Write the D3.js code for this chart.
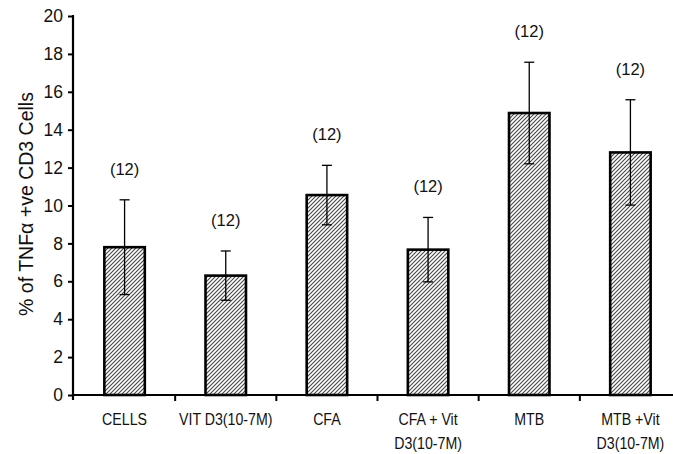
<!DOCTYPE html>
<html>
<head>
<meta charset="utf-8">
<script src="https://cdn.jsdelivr.net/npm/d3@7"></script>
<style>
  html, body { margin: 0; padding: 0; background: #fff; }
  svg { display: block; font-family: "Liberation Sans", Arial, sans-serif; }
</style>
</head>
<body>
<svg id="chart" width="673" height="454"></svg>
<script>
// Treatment groups (label lines) and measured percentages
const categories = ["CELLS", "VIT D3(10-7M)", "CFA", "CFA + Vit D3(10-7M)", "MTB", "MTB +Vit D3(10-7M)"];
const categoryLines = [["CELLS"], ["VIT D3(10-7M)"], ["CFA"], ["CFA + Vit", "D3(10-7M)"], ["MTB"], ["MTB +Vit", "D3(10-7M)"]];
const meanValues = [7.8, 6.3, 10.55, 7.67, 14.88, 12.8];
const errorValues = [2.5, 1.3, 1.57, 1.7, 2.68, 2.78];
const sampleSizes = [12, 12, 12, 12, 12, 12];
const yTicks = [0, 2, 4, 6, 8, 10, 12, 14, 16, 18, 20];

const svg = d3.select("#chart");

// diagonal hatch fill for the bars
const defs = svg.append("defs");
const pat = defs.append("pattern")
  .attr("id", "hatch")
  .attr("patternUnits", "userSpaceOnUse")
  .attr("width", 4).attr("height", 4);
pat.append("rect").attr("width", 4).attr("height", 4).attr("fill", "#fff");
pat.append("path")
  .attr("d", "M-1,1 L1,-1 M0,4 L4,0 M3,5 L5,3")
  .attr("stroke", "#454545").attr("stroke-width", 1.1);

const x = d3.scaleBand().domain(categories).range([74, 681]).padding(0);
const y = d3.scaleLinear().domain([0, 20]).range([395, 16]);
const axisX = 73;

const barW = x.bandwidth() * 0.40;

// bars
svg.append("g").selectAll("rect")
  .data(categories)
  .join("rect")
  .attr("x", (d) => x(d) + (x.bandwidth() - barW) / 2)
  .attr("y", (d, i) => y(meanValues[i]))
  .attr("width", barW)
  .attr("height", (d, i) => y(0) - y(meanValues[i]))
  .attr("fill", "url(#hatch)")
  .attr("stroke", "#000")
  .attr("stroke-width", 2.6);

// error bars (upper and lower whiskers)
const eb = svg.append("g").attr("stroke", "#000").attr("stroke-width", 1.3);
categories.forEach((c, i) => {
  const cx = x(c) + x.bandwidth() / 2;
  const top = y(meanValues[i] + errorValues[i]);
  const bot = y(meanValues[i] - errorValues[i]);
  eb.append("line").attr("x1", cx).attr("x2", cx).attr("y1", top).attr("y2", bot);
  eb.append("line").attr("x1", cx - 5).attr("x2", cx + 5).attr("y1", top).attr("y2", top);
  eb.append("line").attr("x1", cx - 5).attr("x2", cx + 5).attr("y1", bot).attr("y2", bot);
});

// sample size labels above the whiskers
svg.append("g").selectAll("text")
  .data(categories)
  .join("text")
  .attr("x", (d) => x(d) + x.bandwidth() / 2)
  .attr("y", (d, i) => y(meanValues[i] + errorValues[i]) - 25)
  .attr("text-anchor", "middle")
  .attr("font-size", 16.5)
  .attr("fill", "#111")
  .text((d, i) => "(" + sampleSizes[i] + ")");

// y axis
const yAxis = d3.axisLeft(y).tickValues(yTicks).tickSize(5).tickPadding(5).tickFormat(d3.format("d"));
const gy = svg.append("g").attr("transform", `translate(${axisX},0)`).call(yAxis);
gy.select(".domain").remove();
gy.selectAll(".tick line").attr("stroke", "#000").attr("stroke-width", 2);
gy.selectAll(".tick text").attr("font-size", 17.5).attr("fill", "#111")
  .attr("font-family", "Liberation Sans, Arial, sans-serif");
svg.append("line").attr("x1", axisX).attr("x2", axisX)
  .attr("y1", y(20) - 1).attr("y2", y(0) + 5)
  .attr("stroke", "#000").attr("stroke-width", 2.2);

// x axis line and ticks at group boundaries
svg.append("line").attr("x1", axisX).attr("x2", 673)
  .attr("y1", y(0)).attr("y2", y(0))
  .attr("stroke", "#000").attr("stroke-width", 2.2);
svg.append("g").selectAll("line")
  .data(categories.slice(1))
  .join("line")
  .attr("x1", (d) => x(d)).attr("x2", (d) => x(d))
  .attr("y1", y(0)).attr("y2", y(0) + 6)
  .attr("stroke", "#000").attr("stroke-width", 2);

// category labels (slightly condensed)
const lab = svg.append("g").selectAll("g")
  .data(categories)
  .join("g")
  .attr("transform", (d) => `translate(${x(d) + x.bandwidth() / 2},0) scale(0.86,1)`);
lab.each(function (d, i) {
  d3.select(this).selectAll("text")
    .data(categoryLines[i])
    .join("text")
    .attr("x", 0)
    .attr("y", (t, j) => 425 + j * 24)
    .attr("text-anchor", "middle")
    .attr("font-size", 16.5)
    .attr("fill", "#111")
    .text((t) => t);
});

// y axis title
svg.append("text")
  .attr("transform", "translate(33,204) rotate(-90)")
  .attr("text-anchor", "middle")
  .attr("font-size", 19.5)
  .attr("fill", "#111")
  .text("% of TNFα +ve CD3 Cells");
</script>
</body>
</html>
